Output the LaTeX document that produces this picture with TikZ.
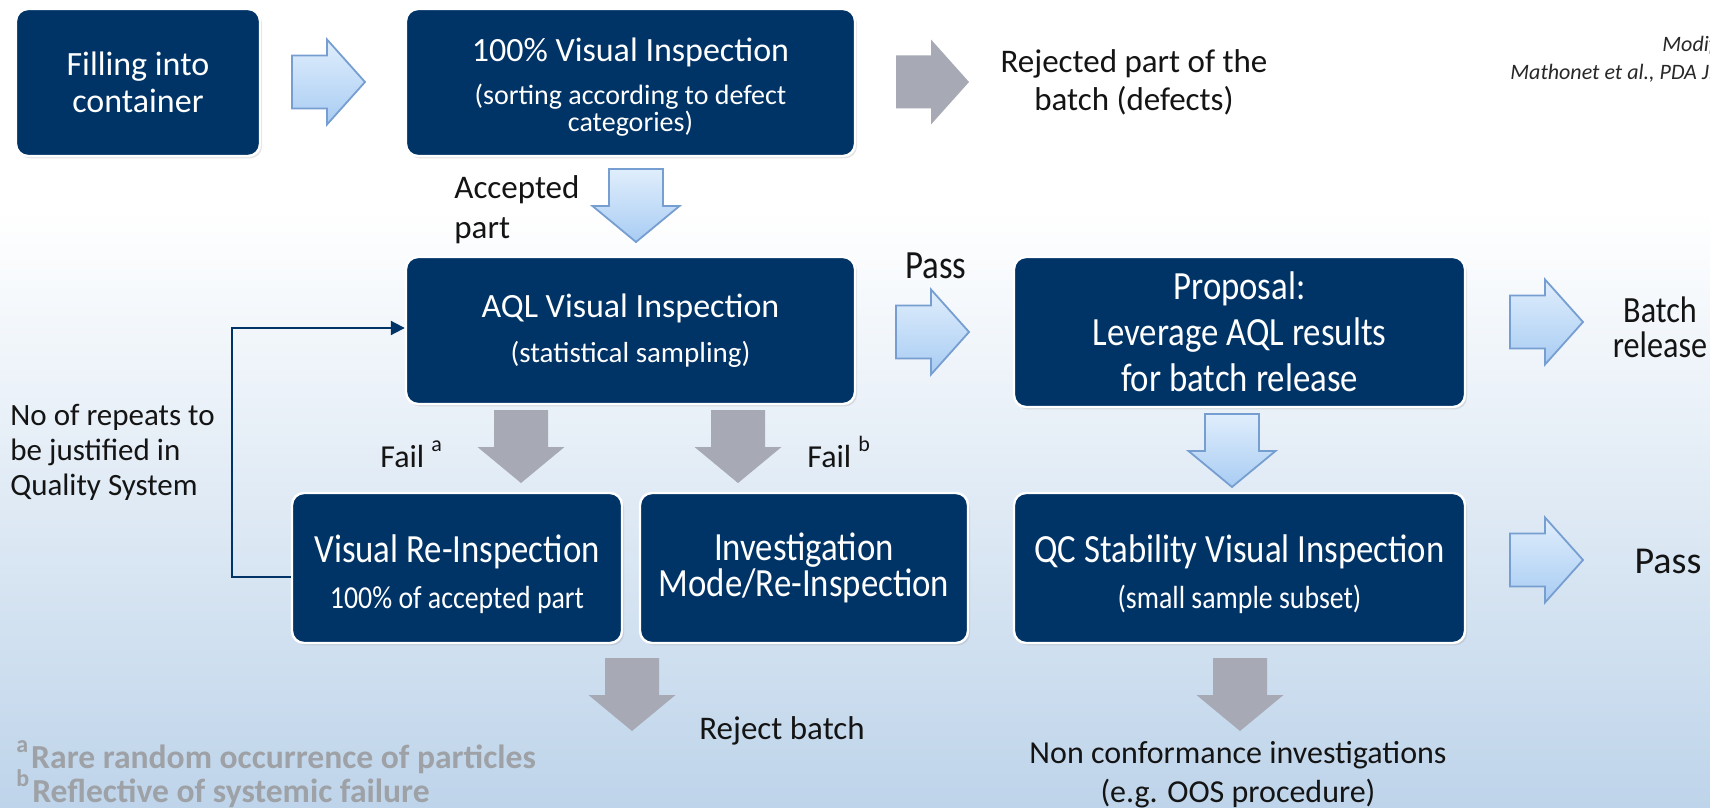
\documentclass[tikz,border=0pt]{standalone}
\usepackage{fontspec}
\setmainfont{Carlito}
\newfontfamily\narrowf{Carlito}[FakeStretch=0.87]
\usetikzlibrary{shadows,arrows.meta}
\definecolor{navy}{RGB}{0,51,102}
\definecolor{bgbot}{RGB}{190,212,234}
\definecolor{arrgray}{RGB}{167,169,181}
\definecolor{arrtop}{RGB}{224,238,252}
\definecolor{arrbot}{RGB}{168,204,243}
\definecolor{arredge}{RGB}{118,158,208}
\definecolor{txt}{RGB}{20,20,20}
\definecolor{footc}{RGB}{158,161,166}
\definecolor{reftxt}{RGB}{40,40,40}
\newcommand\fs[2]{\fontsize{#1}{#2}\selectfont}
\newcommand\upmark[1]{\raisebox{0.5em}{\fs{11}{11}#1}}
\newcommand\upmarkb[1]{\raisebox{0.45em}{\fs{12}{12}#1}}
\pgfdeclareverticalshading{bgshade}{100bp}{color(0bp)=(bgbot); color(25bp)=(bgbot); color(62bp)=(white); color(100bp)=(white)}
\tikzset{
  box/.style={draw=white, line width=1.2pt, fill=navy, rounded corners=6pt, text=white, align=center, inner sep=0pt,
    drop shadow={opacity=0.2, shadow xshift=1pt, shadow yshift=-1.2pt}},
  lbl/.style={text=txt, inner sep=0pt, align=center, font=\fs{16}{19}},
  nlbl/.style={text=txt, inner sep=0pt, align=center, font=\narrowf\fs{18.5}{17.5}},
  foot/.style={text=footc, inner sep=0pt, font=\bfseries\fs{16.8}{18}},
  rarr/.pic={\path[pic actions] (0,-26.5) -- (35,-26.5) -- (35,-42.5) -- (73,0) -- (35,42.5) -- (35,26.5) -- (0,26.5) -- cycle;},
  darr/.pic={\path[pic actions] (-27,0) -- (27,0) -- (27,37) -- (43.5,37) -- (0,73) -- (-43.5,37) -- (-27,37) -- cycle;},
  bluearr/.style={top color=arrtop, bottom color=arrbot, draw=arredge, line width=0.9pt,
    drop shadow={opacity=0.25, shadow xshift=1.5pt, shadow yshift=-1.5pt}},
  grayarr/.style={fill=arrgray},
  fb/.style={draw=navy, line width=1pt, -{Triangle[length=7pt,width=7pt]}},
}
\begin{document}
\begin{tikzpicture}[x=0.5pt,y=-0.5pt]
\shade[shading=bgshade] (0,0) rectangle (1710,808);
\useasboundingbox (0,0) rectangle (1710,808);
\begin{scope}
\clip (0,0) rectangle (1710,808);

% boxes
\node[box, minimum width=122pt, minimum height=73.5pt, font=\fs{17}{18.5}] (fill) at (138,82.5) {Filling into\\container};
\node[box, minimum width=224.5pt, minimum height=73.5pt, font=\fs{14}{13.5}] (vis) at (630.5,82.5)
  {{\fs{17}{17}\rule{0pt}{16.5pt}100\% Visual Inspection}\\[8pt](sorting according to defect\\categories)};
\node[box, minimum width=224.5pt, minimum height=73.5pt, font=\fs{14.5}{15}] (aql) at (630.5,330.5)
  {{\fs{17}{17}AQL Visual Inspection}\\[7.5pt](statistical sampling)};
\node[box, minimum width=225.5pt, minimum height=75pt, font=\narrowf\fs{20}{23}] (prop) at (1239.5,332)
  {Proposal:\\Leverage AQL results\\for batch release};
\node[box, minimum width=165pt, minimum height=75pt, font=\narrowf\fs{16}{16.5}] (reinsp) at (457,568)
  {{\fs{20}{20}\rule{0pt}{20pt}Visual Re-Inspection}\\[6.8pt]100\% of accepted part};
\node[box, minimum width=164pt, minimum height=75pt, font=\narrowf\fs{20}{18}] (invest) at (804,568)
  {Investigation\\Mode/Re-Inspection};
\node[box, minimum width=225.5pt, minimum height=75pt, font=\narrowf\fs{16}{16.5}] (qc) at (1239.5,568)
  {{\fs{20}{20}\rule{0pt}{20pt}QC Stability Visual Inspection}\\[6.8pt](small sample subset)};

% block arrows
\pic[bluearr] (a1) at (292,82) {rarr};
\pic[grayarr] (a2) at (896,82) {rarr};
\pic[bluearr] (a3) at (636,169) {darr};
\pic[bluearr] (a4) at (896,332) {rarr};
\pic[bluearr] (a5) at (1510,322) {rarr};
\pic[grayarr] (g1) at (521,410) {darr};
\pic[grayarr] (g2) at (738,410) {darr};
\pic[bluearr] (a6) at (1232,414) {darr};
\pic[bluearr] (a7) at (1510,560) {rarr};
\pic[grayarr] (g3) at (632,658) {darr};
\pic[grayarr] (g4) at (1240,658) {darr};

% feedback connector
\draw[fb] ([yshift=-4.5pt]reinsp.west) -- ++(-59,0) |- ([yshift=1.25pt]aql.west);

% labels
\node[lbl, font=\fs{16.5}{19}] (rej) at (1134,82) {Rejected part of the\\batch (defects)};
\node[lbl, anchor=west, align=left, font=\fs{16.5}{20}] (acc) at (454,210) {Accepted\\part};
\node[nlbl, font=\narrowf\fs{20}{18}] (pass1) at (936,266) {Pass};
\node[nlbl] (batch) at (1660,327) {Batch\\release};
\node[lbl, font=\fs{19}{19}] (pass2) at (1668,561) {Pass};
\node[lbl, anchor=west, align=left, font=\fs{15.5}{17.5}] (rep) at (10,452) {No of repeats to\\be justified in\\Quality System};
\node[lbl, anchor=base west] (faila) at (380,467) {Fail \upmark{a}};
\node[lbl, anchor=base west] (failb) at (807,467) {Fail \upmark{b}};
\node[lbl, font=\fs{16.5}{19}] (rejb) at (782,731) {Reject batch};
\node[lbl, font=\fs{16}{19.5}] (nonc) at (1238,775) {Non conformance investigations\\(e.g. OOS procedure)};
\node[foot, anchor=base west] (fa) at (16,768) {\upmarkb{a}\hspace{1.5pt}Rare random occurrence of particles};
\node[foot, anchor=base west] (fb) at (16,802) {\upmarkb{b}\hspace{1.5pt}Reflective of systemic failure};
\node[anchor=base west, inner sep=0pt, text=reftxt, font=\itshape\fs{11}{12}] (ref1) at (1662,52) {Modified from};
\node[anchor=base west, inner sep=0pt, text=reftxt, font=\itshape\fs{11}{12}] (ref2) at (1510,80) {Mathonet et al., PDA J. Pharm. Sci. Technol.};
\end{scope}
\end{tikzpicture}
\end{document}
